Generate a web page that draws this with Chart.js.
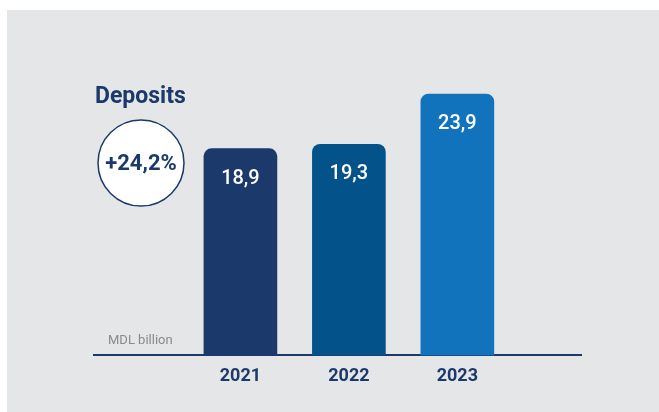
<!DOCTYPE html>
<html>
<head>
<meta charset="utf-8">
<script src="https://cdn.jsdelivr.net/npm/chart.js@4"></script>
<style>
  html, body { margin: 0; padding: 0; background: #ffffff; }
  #wrap { width: 659px; height: 412px; position: relative; }
</style>
</head>
<body>
<div id="wrap"><canvas id="depositsChart" width="659" height="412"></canvas></div>
<script>
// deposits, MDL billion
var years = [2021, 2022, 2023];
var deposits = [18.9, 19.3, 23.9];
var barColors = ['#1b3a6b', '#03538a', '#1273bd'];
var growthLabel = '+24,2%';

var navy = '#1b3a6b';

function fmt(v) {
    return v.toFixed(1).replace('.', ',');
}

// grey panel, heading, growth badge, unit note and value labels
var decorations = {
    id: 'decorations',
    beforeDraw: function (chart) {
        var ctx = chart.ctx;
        ctx.save();
        ctx.fillStyle = '#e5e6e8';
        ctx.fillRect(7, 10, chart.width - 7, chart.height - 10);
        ctx.restore();
    },
    afterDatasetsDraw: function (chart) {
        var ctx = chart.ctx;
        ctx.save();

        ctx.fillStyle = navy;
        ctx.font = 'bold 23px Roboto';
        ctx.textAlign = 'left';
        ctx.textBaseline = 'alphabetic';
        ctx.fillText('Deposits', 95, 103);

        ctx.beginPath();
        ctx.arc(141, 163, 43, 0, Math.PI * 2);
        ctx.fillStyle = '#ffffff';
        ctx.fill();
        ctx.lineWidth = 1.5;
        ctx.strokeStyle = navy;
        ctx.stroke();
        ctx.fillStyle = navy;
        ctx.font = 'bold 22px Roboto';
        ctx.textAlign = 'center';
        ctx.textBaseline = 'middle';
        ctx.fillText(growthLabel, 141, 164);

        ctx.fillStyle = '#8a8a8a';
        ctx.font = '13px Roboto';
        ctx.textAlign = 'left';
        ctx.textBaseline = 'alphabetic';
        ctx.fillText('MDL billion', 108, 344);

        var meta = chart.getDatasetMeta(0);
        ctx.fillStyle = '#ffffff';
        ctx.font = '500 20px Roboto';
        ctx.textAlign = 'center';
        ctx.textBaseline = 'middle';
        meta.data.forEach(function (bar, i) {
            ctx.fillText(fmt(deposits[i]), bar.x, bar.y + 30);
        });
        ctx.restore();
    }
};

var ctx = document.getElementById('depositsChart').getContext('2d');
var chart = new Chart(ctx, {
    type: 'bar',
    data: {
        datasets: [{
            label: 'Deposits',
            data: years.map(function (y, i) { return { x: y, y: deposits[i] }; }),
            backgroundColor: barColors,
            barThickness: 73,
            borderRadius: { topLeft: 8, topRight: 8 },
            borderSkipped: 'bottom'
        }]
    },
    options: {
        responsive: false,
        animation: false,
        layout: { padding: { left: 94, right: 78, top: 71, bottom: 15 } },
        plugins: {
            legend: { display: false },
            tooltip: { enabled: false }
        },
        scales: {
            x: {
                type: 'linear',
                min: 2019.65,
                max: 2024.14,
                offset: false,
                grid: { display: false, drawTicks: false },
                border: { display: true, color: navy, width: 2 },
                afterBuildTicks: function (scale) {
                    scale.ticks = years.map(function (y) { return { value: y }; });
                },
                ticks: {
                    padding: 10,
                    color: navy,
                    font: { family: 'Roboto', size: 18, weight: 'bold' },
                    callback: function (v) { return String(v); }
                }
            },
            y: {
                display: false,
                min: 0,
                max: 26
            }
        }
    },
    plugins: [decorations]
});
</script>
</body>
</html>
